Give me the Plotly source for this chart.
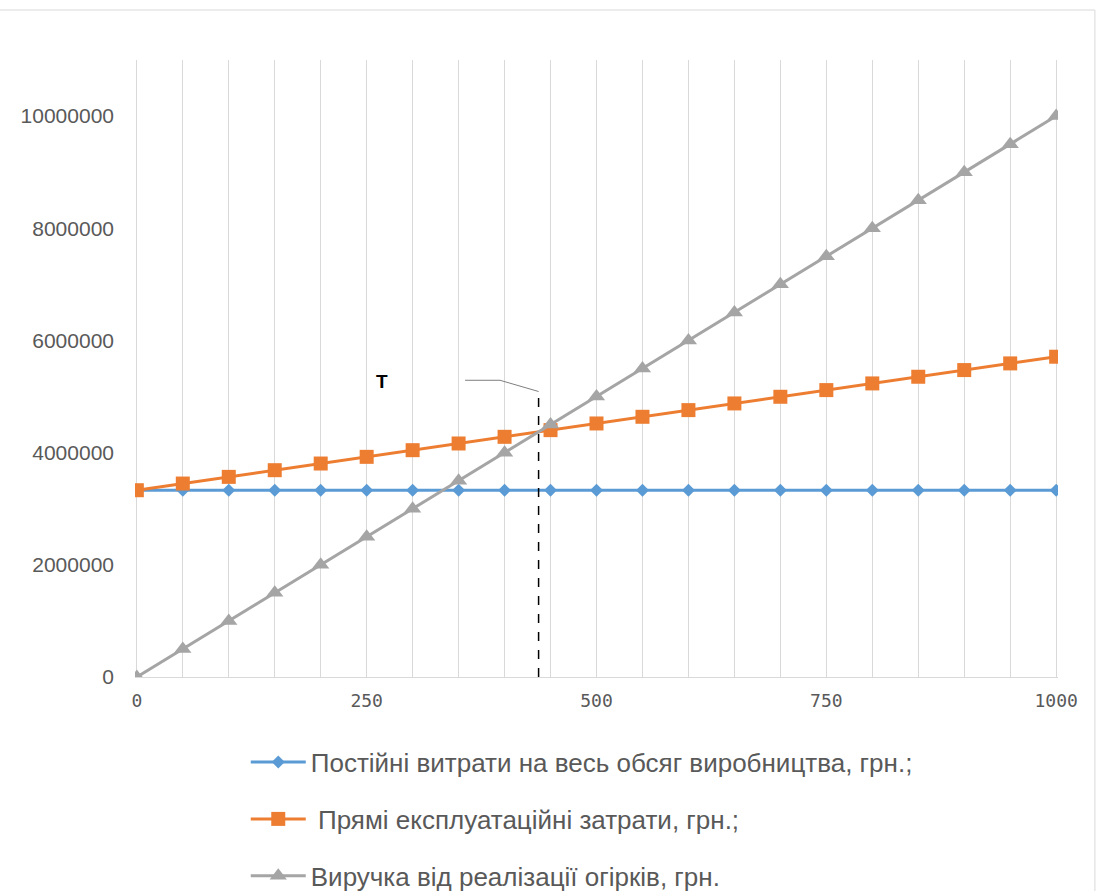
import plotly.graph_objects as go
import numpy as np

volume = [0, 50, 100, 150, 200, 250, 300, 350, 400, 450, 500, 550, 600, 650, 700,
          750, 800, 850, 900, 950, 1000]
fixed_costs = [3330000] * 21
direct_costs = [3330000, 3449000, 3568000, 3687000, 3806000, 3925000, 4044000, 4163000,
                4282000, 4401000, 4520000, 4639000, 4758000, 4877000, 4996000, 5115000,
                5234000, 5353000, 5472000, 5591000, 5710000]
revenue = [0, 500000, 1000000, 1500000, 2000000, 2500000, 3000000, 3500000, 4000000,
           4500000, 5000000, 5500000, 6000000, 6500000, 7000000, 7500000, 8000000,
           8500000, 9000000, 9500000, 10000000]

names = ["Постійні витрати на весь обсяг виробництва, грн.;",
         " Прямі експлуатаційні затрати, грн.;",
         "Виручка від реалізації огірків, грн."]
x_ticks = [0, 250, 500, 750, 1000]
y_ticks = [0, 2000000, 4000000, 6000000, 8000000, 10000000]

# break-even point from the data
d = np.array(revenue) - np.array(direct_costs)
i = int(np.where(d >= 0)[0][0])
x0, x1 = volume[i - 1], volume[i]
be_x = x0 + (x1 - x0) * (-d[i - 1]) / (d[i] - d[i - 1])

fig = go.Figure()
fig.add_trace(go.Scatter(x=volume, y=fixed_costs, name=names[0], mode="lines+markers",
                         line=dict(color="#5B9BD5", width=3),
                         marker=dict(symbol="diamond", size=10, color="#5B9BD5"),
                         legendgroup="a"))
fig.add_trace(go.Scatter(x=volume, y=direct_costs, name=names[1], mode="lines+markers",
                         line=dict(color="#ED7D31", width=3),
                         marker=dict(symbol="square", size=14, color="#ED7D31"),
                         legendgroup="b"))
fig.add_trace(go.Scatter(x=volume, y=revenue, name=names[2], mode="lines+markers",
                         line=dict(color="#A5A5A5", width=3),
                         marker=dict(symbol="triangle-up", size=15, color="#A5A5A5"),
                         legendgroup="c"))

fig.add_shape(type="line", xref="x", yref="y", x0=be_x, x1=be_x, y0=0, y1=5000000,
              line=dict(color="black", width=1.5, dash="dash"))
fig.add_shape(type="path", xref="x", yref="y",
              path=f"M {be_x - 80},{5290000} L {be_x - 42},{5290000} L {be_x},{5090000}",
              line=dict(color="#7F7F7F", width=1))
fig.add_annotation(x=be_x - 170, y=5260000, xref="x", yref="y", text="<b>T</b>",
                   showarrow=False, font=dict(size=19, color="black", family="Liberation Sans"))

fig.update_layout(
    width=1099, height=891,
    margin=dict(l=135, r=41, t=60, b=214, autoexpand=False),
    paper_bgcolor="white", plot_bgcolor="white",
    showlegend=True,
    legend=dict(x=0.12, y=-0.1, xanchor="left", yanchor="top",
                font=dict(size=26, color="#595959", family="Liberation Sans"),
                tracegroupgap=20, itemwidth=55),
    shapes=list(fig.layout.shapes) + [dict(type="rect", xref="paper", yref="paper",
                x0=-0.2, x1=1.04, y0=1.081, y1=-0.5, line=dict(color="#D9D9D9", width=1),
                layer="below")],
)
fig.update_xaxes(range=[-2, 1002], tickvals=x_ticks, ticktext=[str(v) for v in x_ticks],
                 showgrid=True, gridcolor="#D9D9D9", gridwidth=1,
                 minor=dict(dtick=50, showgrid=True, gridcolor="#D9D9D9", gridwidth=1),
                 zeroline=False, showline=True, linecolor="#D9D9D9", linewidth=1,
                 tickfont=dict(size=18, color="#595959", family="DejaVu Sans Mono"),
                 ticks="", ticklabelstandoff=7, automargin=False)
fig.update_yaxes(range=[0, 11000000], tickvals=y_ticks, ticktext=[str(v) for v in y_ticks],
                 showgrid=False, zeroline=False, showline=False,
                 tickfont=dict(size=21, color="#595959", family="Liberation Sans"),
                 ticks="", ticklabelstandoff=20, automargin=False)

fig.write_html("out.html", config={"displayModeBar": False},
               post_script="document.body.style.margin='0';document.body.style.overflow='hidden';")
